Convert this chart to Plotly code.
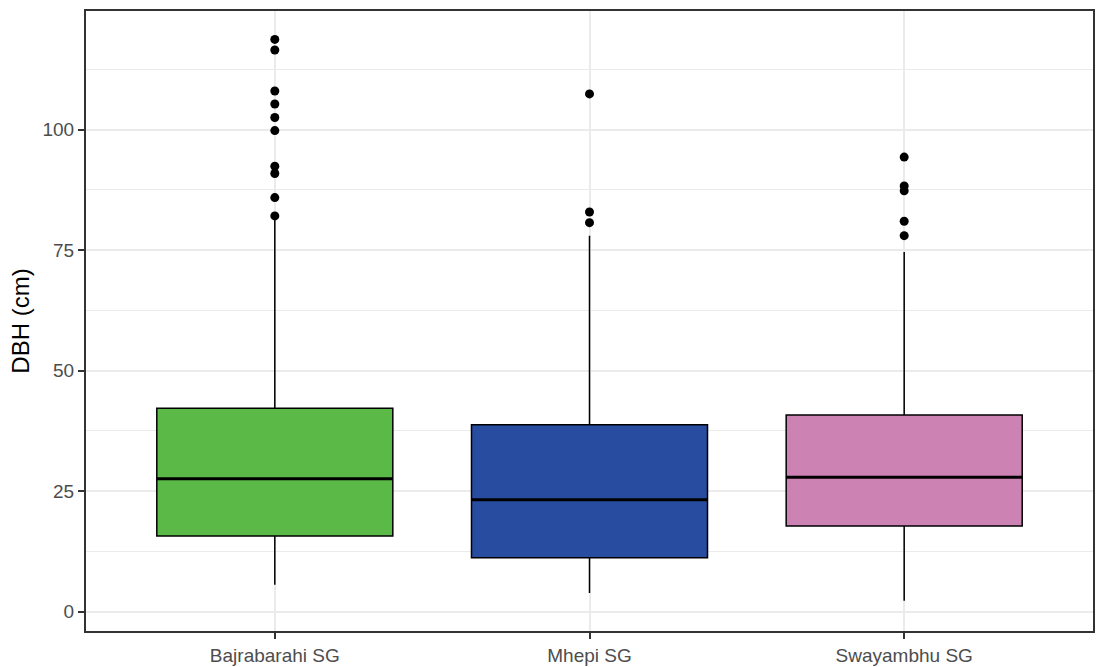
import plotly.graph_objects as go

# ---- data ----
categories = ["Bajrabarahi SG", "Mhepi SG", "Swayambhu SG"]
q1_vals = [15.7, 11.2, 17.8]
median_vals = [27.6, 23.2, 27.9]
q3_vals = [42.2, 38.8, 40.8]
lower_whisker = [5.6, 3.9, 2.3]
upper_whisker = [81.7, 78.0, 74.6]
outliers_bajrabarahi = [118.7, 116.5, 108.0, 105.3, 102.5, 99.8, 92.4, 90.9, 85.9, 82.1]
outliers_mhepi = [107.4, 82.9, 80.7]
outliers_swayambhu = [94.3, 88.3, 87.3, 81.0, 78.0]
fill_colors = ["#5BB947", "#284C9F", "#CD82B4"]
y_ticks = [0, 25, 50, 75, 100]

outliers = [outliers_bajrabarahi, outliers_mhepi, outliers_swayambhu]
positions = [1, 2, 3]
box_width = 0.75
FONT = "Liberation Sans, Arial, sans-serif"

fig = go.Figure()

for i, cat in enumerate(categories):
    fig.add_trace(go.Box(
        x=[positions[i]],
        q1=[q1_vals[i]], median=[median_vals[i]], q3=[q3_vals[i]],
        lowerfence=[lower_whisker[i]], upperfence=[upper_whisker[i]],
        width=box_width,
        whiskerwidth=0,
        fillcolor=fill_colors[i],
        line=dict(color="#000000", width=1.5),
        boxpoints=False,
        name=cat,
        showlegend=False,
        hoverinfo="skip",
    ))
    # thicker median line (ggplot fatten)
    fig.add_trace(go.Scatter(
        x=[positions[i] - box_width / 2, positions[i] + box_width / 2],
        y=[median_vals[i], median_vals[i]],
        mode="lines",
        line=dict(color="#000000", width=3),
        showlegend=False,
        hoverinfo="skip",
    ))
    fig.add_trace(go.Scatter(
        x=[positions[i]] * len(outliers[i]),
        y=outliers[i],
        mode="markers",
        marker=dict(color="#000000", size=9),
        showlegend=False,
        hoverinfo="skip",
    ))

fig.update_layout(
    width=1096, height=667,
    margin=dict(l=86, r=1, t=11, b=31),
    plot_bgcolor="#FFFFFF",
    paper_bgcolor="#FFFFFF",
    font=dict(family=FONT, size=19, color="#4D4D4D"),
    boxmode="overlay",
    showlegend=False,
)

fig.update_xaxes(
    range=[0.4, 3.6],
    tickmode="array",
    tickvals=positions,
    ticktext=categories,
    showgrid=True, gridcolor="#EBEBEB", gridwidth=1.5,
    zeroline=False,
    showline=True, linecolor="#333333", linewidth=2, mirror=True,
    ticks="outside", ticklen=6, tickwidth=1.5, tickcolor="#333333",
    tickfont=dict(family=FONT, size=19, color="#4D4D4D"),
)

fig.update_yaxes(
    range=[-4.0, 124.6],
    tickmode="array",
    tickvals=y_ticks,
    showgrid=True, gridcolor="#EBEBEB", gridwidth=1.5,
    minor=dict(dtick=12.5, tick0=0, showgrid=True, gridcolor="#EBEBEB", gridwidth=0.8),
    zeroline=False,
    showline=True, linecolor="#333333", linewidth=2, mirror=True,
    ticks="outside", ticklen=6, tickwidth=1.5, tickcolor="#333333",
    tickfont=dict(family=FONT, size=19, color="#4D4D4D"),
    title=dict(text="DBH (cm)", font=dict(family=FONT, size=24, color="#000000"), standoff=6),
)

fig.write_html(
    "out.html",
    config={"displayModeBar": False},
    post_script="document.body.style.margin='0';document.body.style.overflow='hidden';",
)
